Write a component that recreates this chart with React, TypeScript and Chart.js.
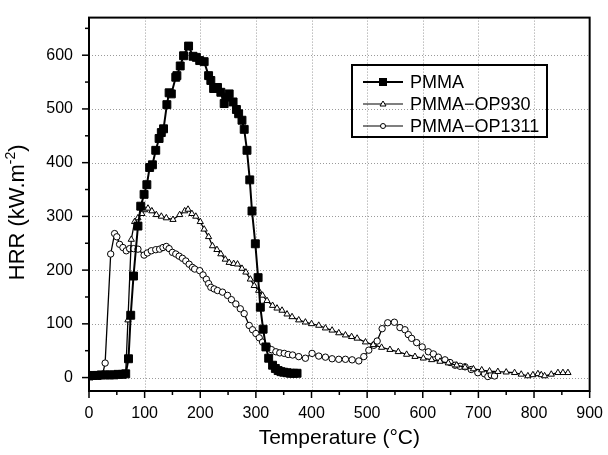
import React, { useEffect, useRef } from 'react';
import { Chart, registerables } from 'chart.js';

Chart.register(...registerables);

// ---------- data ----------
const xTickValues = [0, 100, 200, 300, 400, 500, 600, 700, 800, 900];
const yTickValues = [0, 100, 200, 300, 400, 500, 600];
const xMinorValues = [50, 150, 250, 350, 450, 550, 650, 750, 850];
const yMinorValues = [50, 150, 250, 350, 450, 550, 650];

const seriesNames = ['PMMA', 'PMMA\u2212OP930', 'PMMA\u2212OP1311'];

const pmmaT = [0, 7, 15, 22, 30, 37, 45, 52, 60, 66, 71, 75, 80, 88, 93, 99, 104, 109, 114, 120, 126, 130, 134, 140, 144, 148, 156, 158, 164, 170, 179, 187, 193, 199, 207, 215, 219, 224, 231, 237, 243, 246, 252, 259, 265, 269, 275, 279, 284, 289, 293, 299, 304, 308, 313, 318, 323, 330, 335, 340, 345, 350, 356, 362, 368, 374];
const pmmaHRR = [3, 4, 4, 5, 5, 5, 5, 6, 6, 7, 35, 116, 189, 282, 319, 341, 359, 391, 396, 423, 445, 456, 463, 508, 530, 528, 559, 562, 580, 599, 617, 598, 596, 590, 588, 562, 553, 538, 540, 531, 510, 522, 528, 513, 499, 491, 479, 462, 423, 368, 310, 249, 186, 131, 90, 57, 36, 23, 17, 13, 11, 10, 9, 8, 8, 8];

const op930T = [0, 10, 20, 30, 40, 50, 60, 66, 70, 76, 82, 88, 95, 100, 106, 113, 121, 130, 139, 151, 163, 172, 178, 185, 192, 200, 207, 215, 222, 230, 237, 245, 252, 260, 267, 275, 282, 290, 297, 305, 312, 320, 330, 338, 347, 356, 365, 377, 389, 400, 413, 425, 437, 449, 461, 472, 482, 497, 511, 526, 541, 556, 571, 586, 601, 616, 631, 646, 661, 676, 691, 706, 720, 735, 750, 765, 777, 789, 798, 807, 813, 819, 831, 843, 852, 861];
const op930HRR = [2, 3, 4, 4, 4, 4, 5, 8, 107, 257, 290, 297, 305, 312, 315, 310, 303, 300, 297, 294, 303, 310, 313, 305, 300, 290, 276, 262, 245, 238, 230, 220, 214, 212, 211, 203, 196, 183, 171, 162, 153, 143, 134, 129, 125, 118, 113, 107, 103, 100, 97, 92, 88, 83, 79, 76, 73, 66, 61, 56, 52, 48, 43, 39, 36, 33, 30, 27, 23, 19, 16, 14, 12, 11, 10, 9, 6, 3, 5, 7, 5, 3, 6, 9, 9, 9];

const op1311T = [0, 6, 12, 18, 24, 29, 39, 46, 50, 55, 61, 67, 73, 80, 88, 99, 105, 112, 120, 127, 133, 139, 144, 150, 156, 162, 168, 174, 180, 186, 190, 199, 205, 211, 215, 219, 225, 231, 240, 249, 256, 264, 272, 279, 288, 294, 300, 306, 312, 321, 328, 336, 343, 351, 358, 366, 377, 389, 401, 413, 425, 437, 449, 461, 473, 485, 494, 503, 512, 518, 527, 537, 549, 559, 568, 574, 580, 589, 599, 610, 619, 628, 640, 649, 658, 667, 676, 687, 699, 711, 717, 723, 729];
const op1311HRR = [2, 2, 3, 3, 4, 27, 230, 268, 262, 248, 242, 236, 240, 240, 239, 228, 232, 236, 238, 239, 242, 244, 240, 233, 230, 226, 222, 217, 211, 205, 202, 199, 191, 183, 175, 168, 165, 162, 159, 153, 145, 137, 128, 119, 97, 89, 82, 74, 66, 57, 52, 48, 46, 45, 43, 42, 39, 36, 45, 40, 38, 35, 34, 34, 33, 31, 39, 51, 60, 68, 91, 102, 103, 93, 89, 80, 73, 65, 57, 48, 44, 38, 33, 28, 23, 21, 20, 15, 9, 7, 2, 5, 3];

const xTitle = 'Temperature (\u00B0C)';
const FONT = "'Liberation Sans', Arial, Helvetica, sans-serif";

const toPoints = (xs: number[], ys: number[]) => xs.map((x, i) => ({ x, y: ys[i] }));

// ---------- plugins ----------
const gridPlugin = {
  id: 'dottedGrid',
  beforeDatasetsDraw(chart: any) {
    const { ctx, chartArea, scales } = chart;
    ctx.save();
    ctx.strokeStyle = '#9a9a9a';
    ctx.lineWidth = 1;
    ctx.setLineDash([1, 2]);
    xTickValues.forEach((v) => {
      if (v === 0 || v === 900) return;
      const px = Math.round(scales.x.getPixelForValue(v)) + 0.5;
      ctx.beginPath();
      ctx.moveTo(px, chartArea.top);
      ctx.lineTo(px, chartArea.bottom);
      ctx.stroke();
    });
    yTickValues.forEach((v) => {
      const py = Math.round(scales.y.getPixelForValue(v)) + 0.5;
      ctx.beginPath();
      ctx.moveTo(chartArea.left, py);
      ctx.lineTo(chartArea.right, py);
      ctx.stroke();
    });
    ctx.restore();
  },
};

const framePlugin = {
  id: 'frameTicks',
  afterDraw(chart: any) {
    const { ctx, chartArea, scales } = chart;
    const { left, right, top, bottom } = chartArea;
    ctx.save();
    ctx.strokeStyle = '#000';
    ctx.lineWidth = 2;
    ctx.setLineDash([]);
    ctx.strokeRect(left, top, right - left, bottom - top);
    ctx.lineWidth = 1.5;
    const tick = (x1: number, y1: number, x2: number, y2: number) => {
      ctx.beginPath();
      ctx.moveTo(x1, y1);
      ctx.lineTo(x2, y2);
      ctx.stroke();
    };
    xTickValues.forEach((v) => {
      const px = scales.x.getPixelForValue(v);
      tick(px, bottom, px, bottom + 7);
    });
    xMinorValues.forEach((v) => {
      const px = scales.x.getPixelForValue(v);
      tick(px, bottom, px, bottom + 4);
    });
    yTickValues.forEach((v) => {
      const py = scales.y.getPixelForValue(v);
      tick(left, py, left - 7, py);
    });
    yMinorValues.forEach((v) => {
      const py = scales.y.getPixelForValue(v);
      tick(left, py, left - 4, py);
    });

    // axis titles
    ctx.fillStyle = '#000';
    ctx.textAlign = 'center';
    ctx.textBaseline = 'middle';
    ctx.font = `21px ${FONT}`;
    ctx.fillText(xTitle, (left + right) / 2, 438);

    // y title with superscript
    ctx.save();
    ctx.translate(18, (top + bottom) / 2 + 8);
    ctx.rotate(-Math.PI / 2);
    const parts = [
      { t: 'HRR (kW.m', size: 22, dy: 0 },
      { t: '-2', size: 14, dy: -7 },
      { t: ')', size: 22, dy: 0 },
    ];
    let total = 0;
    parts.forEach((p) => {
      ctx.font = `${p.size}px ${FONT}`;
      total += ctx.measureText(p.t).width;
    });
    let cx = -total / 2;
    ctx.textAlign = 'left';
    parts.forEach((p) => {
      ctx.font = `${p.size}px ${FONT}`;
      ctx.fillText(p.t, cx, p.dy);
      cx += ctx.measureText(p.t).width;
    });
    ctx.restore();

    // legend
    const lx = 352, ly = 65, lw = 195, lh = 72;
    ctx.lineWidth = 2;
    ctx.strokeRect(lx, ly, lw, lh);
    ctx.font = `18px ${FONT}`;
    ctx.textAlign = 'left';
    ctx.textBaseline = 'middle';
    seriesNames.forEach((name, i) => {
      const y = 82 + i * 22;
      ctx.lineWidth = i === 0 ? 1.8 : 1.2;
      ctx.beginPath();
      ctx.moveTo(363, y);
      ctx.lineTo(403, y);
      ctx.stroke();
      const mx = 383;
      ctx.lineWidth = 1;
      if (i === 0) {
        ctx.fillStyle = '#000';
        ctx.fillRect(mx - 4, y - 4, 8, 8);
      } else if (i === 1) {
        ctx.fillStyle = '#fff';
        ctx.beginPath();
        ctx.moveTo(mx, y - 3);
        ctx.lineTo(mx + 3, y + 2);
        ctx.lineTo(mx - 3, y + 2);
        ctx.closePath();
        ctx.fill();
        ctx.stroke();
      } else {
        ctx.fillStyle = '#fff';
        ctx.beginPath();
        ctx.arc(mx, y, 2.5, 0, Math.PI * 2);
        ctx.fill();
        ctx.stroke();
      }
      ctx.fillStyle = '#000';
      ctx.fillText(name, 410, y + 1);
    });
    ctx.restore();
  },
};

export default function App() {
  const canvasRef = useRef<HTMLCanvasElement | null>(null);

  useEffect(() => {
    document.body.style.margin = '0';
    const canvas = canvasRef.current;
    if (!canvas) return;
    const chart = new Chart(canvas, {
      type: 'line',
      data: {
        datasets: [
          {
            label: seriesNames[0],
            data: toPoints(pmmaT, pmmaHRR),
            borderColor: '#000',
            borderWidth: 2,
            pointStyle: 'rect',
            pointRadius: 5.6,
            pointBackgroundColor: '#000',
            pointBorderColor: '#000',
            pointBorderWidth: 1,
            tension: 0,
            order: 0,
          },
          {
            label: seriesNames[1],
            data: toPoints(op930T, op930HRR),
            borderColor: '#000',
            borderWidth: 1.3,
            pointStyle: 'triangle',
            pointRadius: 3.6,
            pointBackgroundColor: '#fff',
            pointBorderColor: '#000',
            pointBorderWidth: 1,
            tension: 0,
            order: 1,
          },
          {
            label: seriesNames[2],
            data: toPoints(op1311T, op1311HRR),
            borderColor: '#000',
            borderWidth: 1.3,
            pointStyle: 'circle',
            pointRadius: 3.2,
            pointBackgroundColor: '#fff',
            pointBorderColor: '#000',
            pointBorderWidth: 1,
            tension: 0,
            order: 2,
          },
        ],
      },
      options: {
        responsive: false,
        animation: false,
        events: [],
        layout: { padding: { left: 0, top: 13, right: 16, bottom: 0 } },
        plugins: {
          legend: { display: false },
          tooltip: { enabled: false },
        },
        scales: {
          x: {
            type: 'linear',
            min: 0,
            max: 900,
            afterBuildTicks: (s: any) => {
              s.ticks = xTickValues.map((v) => ({ value: v }));
            },
            afterFit: (s: any) => {
              s.height = 64;
            },
            grid: { display: false },
            border: { display: false },
            ticks: {
              padding: 5,
              color: '#000',
              font: { family: FONT, size: 16 },
              maxRotation: 0,
              autoSkip: false,
            },
          },
          y: {
            type: 'linear',
            min: -25,
            max: 670,
            afterBuildTicks: (s: any) => {
              s.ticks = yTickValues.map((v) => ({ value: v }));
            },
            afterFit: (s: any) => {
              s.width = 89;
            },
            grid: { display: false },
            border: { display: false },
            ticks: {
              padding: 8,
              color: '#000',
              font: { family: FONT, size: 16 },
              autoSkip: false,
            },
          },
        },
      },
      plugins: [gridPlugin, framePlugin],
    } as any);
    return () => chart.destroy();
  }, []);

  return (
    <div style={{ position: 'absolute', left: 0, top: 0, width: 608, height: 455, background: '#fff' }}>
      <canvas ref={canvasRef} width={608} height={455} style={{ display: 'block' }} />
    </div>
  );
}
